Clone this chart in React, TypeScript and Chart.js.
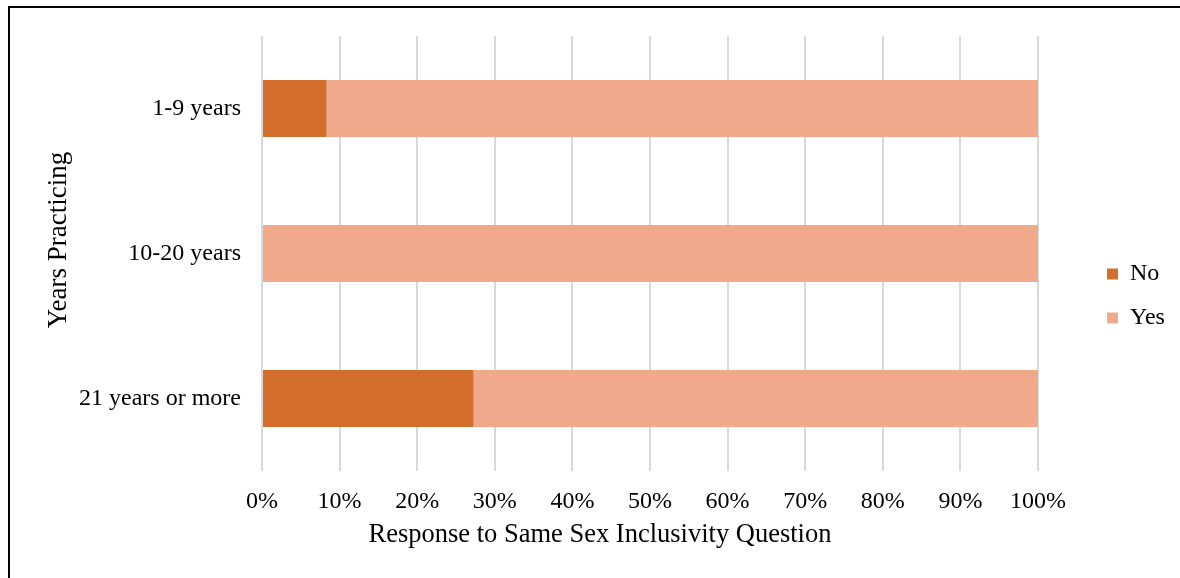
import React, { useEffect, useRef } from "react";
import { Chart, registerables } from "chart.js";

Chart.register(...registerables);

const categories = ["1-9 years", "10-20 years", "21 years or more"];
const noValues = [8.33, 0, 27.27];
const yesValues = [91.67, 100, 72.73];
const xTicks = [0, 10, 20, 30, 40, 50, 60, 70, 80, 90, 100];
const xAxisTitle = "Response to Same Sex Inclusivity Question";
const yAxisTitle = "Years Practicing";

const FONT = '"Liberation Serif", "Times New Roman", serif';
const NO_COLOR = "#D46E2C";
const YES_COLOR = "#F1A98B";

// Axis titles are centred on the outer chart frame rather than the plot area,
// so they are painted by a small plugin instead of the scale titles.
const axisTitlePlugin = {
  id: "frameAxisTitles",
  afterDraw(chart: any) {
    const { ctx, width } = chart;
    ctx.save();
    ctx.fillStyle = "#000";
    ctx.textAlign = "center";
    ctx.textBaseline = "alphabetic";
    ctx.font = `26.5px ${FONT}`;
    ctx.fillText(xAxisTitle, width / 2 + 10, 542);
    ctx.translate(66, 240);
    ctx.rotate(-Math.PI / 2);
    ctx.font = `27px ${FONT}`;
    ctx.fillText(yAxisTitle, 0, 0);
    ctx.restore();
  },
};

// Keeps a gap between the plot area and the legend column.
const legendGapPlugin = {
  id: "legendGap",
  afterLayout(chart: any) {
    const lg = chart.legend;
    if (!lg) return;
    lg.left = chart.chartArea.right + 49;
    lg.right = lg.left + lg.width;
  },
};

export default function App() {
  const canvasRef = useRef<HTMLCanvasElement | null>(null);

  useEffect(() => {
    const canvas = canvasRef.current;
    if (!canvas) return;
    const chart = new Chart(canvas, {
      type: "bar",
      data: {
        labels: categories,
        datasets: [
          {
            label: "No",
            data: noValues,
            backgroundColor: NO_COLOR,
            categoryPercentage: 1,
            barPercentage: 0.393,
          },
          {
            label: "Yes",
            data: yesValues,
            backgroundColor: YES_COLOR,
            categoryPercentage: 1,
            barPercentage: 0.393,
          },
        ],
      },
      plugins: [axisTitlePlugin, legendGapPlugin],
      options: {
        indexAxis: "y",
        responsive: false,
        animation: false,
        layout: { padding: { top: 36, left: 0, right: 4, bottom: 22 } },
        plugins: {
          tooltip: { enabled: false },
          legend: {
            position: "right",
            align: "center",
            labels: {
              color: "#000",
              font: { family: FONT, size: 24 },
              boxWidth: 11,
              boxHeight: 11,
              padding: 20,
            },
          },
        },
        scales: {
          x: {
            type: "linear",
            stacked: true,
            min: 0,
            max: 100,
            afterBuildTicks: (scale: any) => {
              scale.ticks = xTicks.map((v) => ({ value: v }));
            },
            afterFit: (scale: any) => {
              scale.height = 85;
              scale.paddingRight = 142;
            },
            grid: { color: "#D9D9D9", lineWidth: 2, drawTicks: false },
            border: { display: false },
            ticks: {
              color: "#000",
              font: { family: FONT, size: 24 },
              padding: 16,
              callback: (v: any) => `${v}%`,
            },
          },
          y: {
            type: "category",
            stacked: true,
            afterFit: (scale: any) => {
              scale.width = 262;
            },
            grid: { display: false, drawTicks: false },
            border: { display: false },
            ticks: {
              color: "#000",
              font: { family: FONT, size: 24 },
              padding: 21,
            },
          },
        },
      },
    });
    return () => chart.destroy();
  }, []);

  return (
    <div
      style={{
        position: "fixed",
        left: 0,
        top: 0,
        width: 1180,
        height: 578,
        background: "#fff",
        overflow: "hidden",
      }}
    >
      <div
        style={{
          position: "absolute",
          left: 8,
          top: 6,
          width: 1200,
          height: 600,
          borderLeft: "2px solid #000",
          borderTop: "2px solid #000",
          boxSizing: "border-box",
        }}
      />
      <canvas
        ref={canvasRef}
        width={1180}
        height={578}
        style={{ position: "absolute", left: 0, top: 0, width: 1180, height: 578 }}
      />
    </div>
  );
}
